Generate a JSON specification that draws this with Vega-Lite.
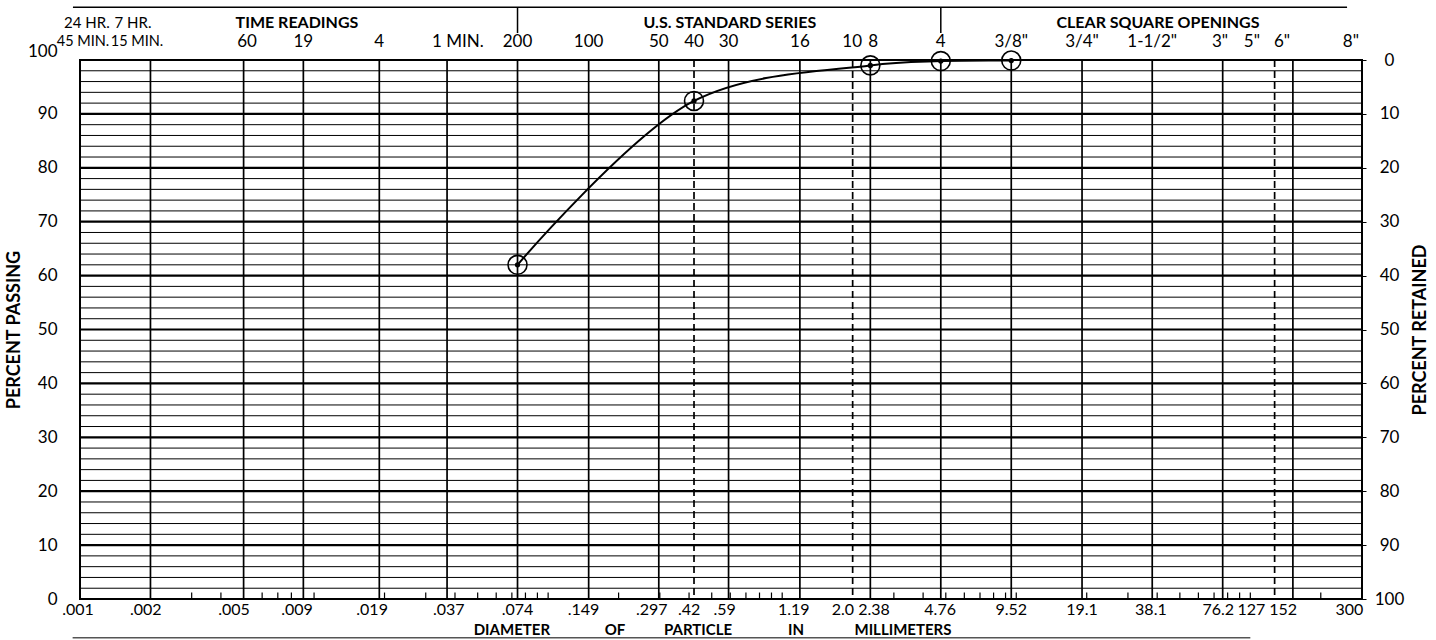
{
  "$schema": "https://vega.github.io/schema/vega-lite/v6.json",
  "width": 1282,
  "height": 539,
  "autosize": "none",
  "padding": {"left": 80, "top": 60, "right": 74, "bottom": 41},
  "background": "white",
  "config": {
    "font": "Lato",
    "view": {"stroke": "black", "strokeWidth": 2},
    "axis": {"labelFont": "Lato", "titleFont": "Lato", "labelColor": "black", "titleColor": "black", "labelFontSize": 17, "grid": false, "domain": false, "ticks": false},
    "text": {"font": "Lato", "fontSize": 17, "color": "black"}
  },
  "datasets": {
    "hgrid": [{"pct":0},{"pct":2},{"pct":4},{"pct":6},{"pct":8},{"pct":10},{"pct":12},{"pct":14},{"pct":16},{"pct":18},{"pct":20},{"pct":22},{"pct":24},{"pct":26},{"pct":28},{"pct":30},{"pct":32},{"pct":34},{"pct":36},{"pct":38},{"pct":40},{"pct":42},{"pct":44},{"pct":46},{"pct":48},{"pct":50},{"pct":52},{"pct":54},{"pct":56},{"pct":58},{"pct":60},{"pct":62},{"pct":64},{"pct":66},{"pct":68},{"pct":70},{"pct":72},{"pct":74},{"pct":76},{"pct":78},{"pct":80},{"pct":82},{"pct":84},{"pct":86},{"pct":88},{"pct":90},{"pct":92},{"pct":94},{"pct":96},{"pct":98},{"pct":100}],
    "vlines": [{"d":0.002},{"d":0.005},{"d":0.009},{"d":0.019},{"d":0.037},{"d":0.074},{"d":0.149},{"d":0.297},{"d":0.42},{"d":0.59},{"d":1.19},{"d":2.0},{"d":2.38},{"d":4.76},{"d":9.52},{"d":19.1},{"d":38.1},{"d":76.2},{"d":127},{"d":152}],
    "minor": [{"d":0.003},{"d":0.004},{"d":0.006},{"d":0.007},{"d":0.008},{"d":0.01},{"d":0.02},{"d":0.03},{"d":0.04},{"d":0.05},{"d":0.06},{"d":0.07},{"d":0.08},{"d":0.09},{"d":0.1},{"d":0.2},{"d":0.3},{"d":0.4},{"d":0.5},{"d":0.6},{"d":0.7},{"d":0.8},{"d":0.9},{"d":1},{"d":3},{"d":4},{"d":5},{"d":6},{"d":7},{"d":8},{"d":9},{"d":10},{"d":20},{"d":30},{"d":40},{"d":50},{"d":60},{"d":70},{"d":80},{"d":90},{"d":100},{"d":200}],
    "brackets": [{"d":0.074},{"d":4.76}],
    "topLine": [{"d":0.000933},{"d":259}],
    "bottomLine": [{"d":0.00093},{"d":100}],
    "sample": [{"d":0.074,"pct":62},{"d":0.42,"pct":92.4},{"d":2.38,"pct":99},{"d":4.76,"pct":99.8},{"d":9.52,"pct":99.9}],
    "timeHeads": [{"d":0.00107,"label":"24 HR."},{"d":0.001684,"label":"7 HR."}],
    "timeMins": [{"d":0.00103,"label":"45 MIN."},{"d":0.001752,"label":"15 MIN."}],
    "groups": [{"d":0.00845,"label":"TIME READINGS"},{"d":0.598,"label":"U.S. STANDARD SERIES"},{"d":40.3,"label":"CLEAR SQUARE OPENINGS"}],
    "sieves": [{"d":0.00517,"label":"60"},{"d":0.009,"label":"19"},{"d":0.019,"label":"4"},{"d":0.0412,"label":"1 MIN."},{"d":0.074,"label":"200"},{"d":0.149,"label":"100"},{"d":0.297,"label":"50"},{"d":0.42,"label":"40"},{"d":0.59,"label":"30"},{"d":1.19,"label":"16"},{"d":1.99,"label":"10"},{"d":2.45,"label":"8"},{"d":4.76,"label":"4"},{"d":9.52,"label":"3/8\""},{"d":19.1,"label":"3/4\""},{"d":38.1,"label":"1-1/2\""},{"d":74.2,"label":"3\""},{"d":101.6,"label":"5\""},{"d":136.6,"label":"6\""},{"d":269,"label":"8\""}],
    "diameters": [{"d":0.00098,"label":".001"},{"d":0.00191,"label":".002"},{"d":0.00455,"label":".005"},{"d":0.00845,"label":".009"},{"d":0.0177,"label":".019"},{"d":0.0376,"label":".037"},{"d":0.074,"label":".074"},{"d":0.1417,"label":".149"},{"d":0.277,"label":".297"},{"d":0.40,"label":".42"},{"d":0.568,"label":".59"},{"d":1.12,"label":"1.19"},{"d":1.818,"label":"2.0"},{"d":2.466,"label":"2.38"},{"d":4.73,"label":"4.76"},{"d":9.52,"label":"9.52"},{"d":19.1,"label":"19.1"},{"d":37.6,"label":"38.1"},{"d":73,"label":"76.2"},{"d":101,"label":"127"},{"d":138,"label":"152"},{"d":265,"label":"300"}],
    "titleWords": [{"d":0.07,"label":"DIAMETER"},{"d":0.193,"label":"OF"},{"d":0.437,"label":"PARTICLE"},{"d":1.145,"label":"IN"},{"d":3.28,"label":"MILLIMETERS"}]
  },
  "layer": [
    {
      "data": {"name": "hgrid"},
      "mark": {"type": "rule", "color": "black"},
      "encoding": {
        "y": {
          "field": "pct", "type": "quantitative",
          "scale": {"domain": [0, 100], "nice": false},
          "axis": {
            "orient": "left", "values": [0,10,20,30,40,50,60,70,80,90,100],
            "title": "PERCENT PASSING", "titleFontWeight": "bold", "titleFontSize": 18, "titlePadding": 4,
            "labelPadding": 23, "tickSize": 0,
            "labelBaseline": {"condition": {"test": "datum.value == 100", "value": "bottom"}, "value": "middle"}
          }
        },
        "strokeWidth": {"condition": {"test": "datum.pct % 10 === 0", "value": 2.2}, "value": 1}
      }
    },
    {
      "data": {"name": "vlines"},
      "mark": {"type": "rule", "color": "black", "strokeWidth": 1.7},
      "encoding": {
        "x": {
          "field": "d", "type": "quantitative",
          "scale": {"type": "log", "domain": [0.001, 300], "nice": false},
          "axis": null
        },
        "strokeDash": {"condition": {"test": "datum.d == 0.42 || datum.d == 2 || datum.d == 127", "value": [7, 4]}, "value": [1, 0]}
      }
    },
    {
      "data": {"name": "minor"},
      "mark": {"type": "rule", "color": "black", "strokeWidth": 1.2},
      "encoding": {
        "x": {"field": "d", "type": "quantitative", "axis": null},
        "y": {"datum": 0, "type": "quantitative", "axis": null},
        "y2": {"datum": 1.2}
      }
    },
    {
      "data": {"name": "brackets"},
      "mark": {"type": "rule", "color": "black", "strokeWidth": 1.5},
      "encoding": {
        "x": {"field": "d", "type": "quantitative", "axis": null},
        "y": {"datum": 105, "type": "quantitative", "axis": null},
        "y2": {"datum": 109.8}
      }
    },
    {
      "data": {"name": "topLine"},
      "mark": {"type": "line", "color": "black", "strokeWidth": 1.5},
      "encoding": {
        "x": {"field": "d", "type": "quantitative", "axis": null},
        "y": {"datum": 109.8, "type": "quantitative", "axis": null}
      }
    },
    {
      "data": {"name": "bottomLine"},
      "mark": {"type": "line", "color": "#555555", "strokeWidth": 1.5},
      "encoding": {
        "x": {"field": "d", "type": "quantitative", "axis": null},
        "y": {"datum": -7.2, "type": "quantitative", "axis": null}
      }
    },
    {
      "data": {"name": "sample"},
      "mark": {"type": "line", "color": "black", "strokeWidth": 2, "interpolate": "catmull-rom"},
      "encoding": {
        "x": {"field": "d", "type": "quantitative", "axis": null},
        "y": {"field": "pct", "type": "quantitative", "axis": null}
      }
    },
    {
      "data": {"name": "sample"},
      "mark": {"type": "point", "shape": "circle", "filled": false, "size": 360, "stroke": "black", "strokeWidth": 1.6, "opacity": 1},
      "encoding": {
        "x": {"field": "d", "type": "quantitative", "axis": null},
        "y": {
          "field": "pct", "type": "quantitative",
          "axis": {
            "orient": "right", "values": [0,10,20,30,40,50,60,70,80,90,100],
            "labelExpr": "toString(100 - datum.value)",
            "title": "PERCENT RETAINED", "titleFontWeight": "bold", "titleFontSize": 18, "titleAngle": 270, "titlePadding": 26,
            "ticks": true, "tickSize": 4, "tickColor": "black", "labelPadding": 23, "labelAlign": "center", "labelBaseline": "middle"
          }
        }
      }
    },
    {
      "data": {"name": "sample"},
      "mark": {"type": "point", "shape": "circle", "filled": true, "size": 28, "color": "black", "opacity": 1},
      "encoding": {
        "x": {"field": "d", "type": "quantitative", "axis": null},
        "y": {"field": "pct", "type": "quantitative", "axis": null}
      }
    },
    {
      "data": {"name": "timeHeads"},
      "mark": {"type": "text", "baseline": "middle", "align": "center", "fontSize": 15},
      "encoding": {
        "x": {"field": "d", "type": "quantitative", "axis": null},
        "y": {"datum": 106.9, "type": "quantitative", "axis": null},
        "text": {"field": "label"}
      }
    },
    {
      "data": {"name": "timeMins"},
      "mark": {"type": "text", "baseline": "middle", "align": "center", "fontSize": 14.5},
      "encoding": {
        "x": {"field": "d", "type": "quantitative", "axis": null},
        "y": {"datum": 103.3, "type": "quantitative", "axis": null},
        "text": {"field": "label"}
      }
    },
    {
      "data": {"name": "groups"},
      "mark": {"type": "text", "baseline": "middle", "align": "center", "fontWeight": "bold", "fontSize": 16},
      "encoding": {
        "x": {"field": "d", "type": "quantitative", "axis": null},
        "y": {"datum": 106.9, "type": "quantitative", "axis": null},
        "text": {"field": "label"}
      }
    },
    {
      "data": {"name": "sieves"},
      "mark": {"type": "text", "baseline": "middle", "align": "center"},
      "encoding": {
        "x": {"field": "d", "type": "quantitative", "axis": null},
        "y": {"datum": 103.3, "type": "quantitative", "axis": null},
        "text": {"field": "label"}
      }
    },
    {
      "data": {"name": "diameters"},
      "mark": {"type": "text", "baseline": "middle", "align": "center", "fontSize": 16},
      "encoding": {
        "x": {"field": "d", "type": "quantitative", "axis": null},
        "y": {"datum": -2.1, "type": "quantitative", "axis": null},
        "text": {"field": "label"}
      }
    },
    {
      "data": {"name": "titleWords"},
      "mark": {"type": "text", "baseline": "middle", "align": "center", "fontWeight": "bold", "fontSize": 15},
      "encoding": {
        "x": {"field": "d", "type": "quantitative", "axis": null},
        "y": {"datum": -5.7, "type": "quantitative", "axis": null},
        "text": {"field": "label"}
      }
    }
  ],
  "resolve": {"axis": {"y": "independent"}}
}
